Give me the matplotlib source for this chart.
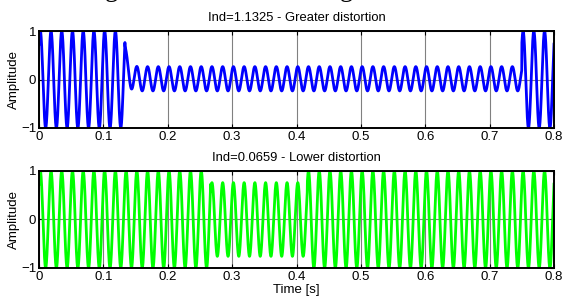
import matplotlib
matplotlib.use("Agg")
import matplotlib.pyplot as plt
import numpy as np

# values
freq_hz = 60.0
phase_delay_s = 0.002
x_ticks = [0.0, 0.1, 0.2, 0.3, 0.4, 0.5, 0.6, 0.7, 0.8]
y_ticks = [-1, 0, 1]

# upper signal: envelope segments (start/end time, amplitude, dc offset)
top_edges = [0.0, 0.1335, 0.75, 0.8]
top_amps = [1.0, 0.25, 1.0]
top_offsets = [0.0, 0.015, 0.0]
top_spike = 0.5        # transient jump after the switch
top_spike_tau = 0.004

# lower signal
bottom_edges = [0.0, 0.2667, 0.4167, 0.8]
bottom_amps = [1.0, 0.76, 1.0]
bottom_offsets = [0.0, 0.0, 0.0]

top_title = "Ind=1.1325 - Greater distortion"
bottom_title = "Ind=0.0659 - Lower distortion"
fig_title = "Original and Distorted Signal Waveforms"


def build_wave(t, edges, amps, offsets):
    y = np.zeros_like(t)
    carrier = np.cos(2 * np.pi * freq_hz * (t - phase_delay_s))
    for i, (amp, off) in enumerate(zip(amps, offsets)):
        last = i == len(amps) - 1
        mask = (t >= edges[i]) & ((t <= edges[i + 1]) if last else (t < edges[i + 1]))
        y[mask] = amp * carrier[mask] + off
    return y


t = np.linspace(0.0, 0.8, 6001)
top_wave = build_wave(t, top_edges, top_amps, top_offsets)
after = (t >= top_edges[1]) & (t < top_edges[2])
top_wave[after] += top_spike * np.exp(-(t[after] - top_edges[1]) / top_spike_tau)
bottom_wave = build_wave(t, bottom_edges, bottom_amps, bottom_offsets)

plt.rcParams["font.family"] = ["Liberation Sans", "DejaVu Sans"]

fig = plt.figure(figsize=(5.65, 3.04), dpi=100)
fig.patch.set_facecolor("white")

ax_left, ax_w, ax_h = 39 / 565, 515 / 565, 97 / 304
ax_top = fig.add_axes([ax_left, 1 - 128 / 304, ax_w, ax_h])
ax_bot = fig.add_axes([ax_left, 1 - 268 / 304, ax_w, ax_h])

panels = [
    (ax_top, top_wave, "#0000ff", top_title),
    (ax_bot, bottom_wave, "#00ff00", bottom_title),
]

for ax, wave, color, title in panels:
    ax.plot(t, wave, color=color, linewidth=2.0, zorder=3)
    ax.set_xlim(0.0, 0.8)
    ax.set_ylim(-1, 1)
    ax.set_xticks(x_ticks)
    ax.set_xticklabels(["0"] + [f"{v:.1f}" for v in x_ticks[1:]])
    ax.set_yticks(y_ticks)
    ax.grid(True, color="0.5", linewidth=0.8, zorder=1)
    ax.tick_params(direction="in", length=3, width=0.8, top=True, right=True,
                   labelsize=9.5, pad=2)
    for sp in ax.spines.values():
        sp.set_linewidth(1.4)
        sp.set_color("black")
        sp.set_zorder(4)
    ax.set_ylabel("Amplitude", fontsize=9.5, labelpad=1)
    ax.set_title(title, fontsize=9.4, pad=7)

ax_bot.set_xlabel("Time [s]", fontsize=9.5, labelpad=1)

# the reference shows only the lower edge of this heading; it is cropped at the top
fig.text(0.517, 1.013, fig_title, ha="center", va="baseline", fontsize=19.4,
         family=["Liberation Serif", "DejaVu Serif"])

fig.savefig("out.png", dpi=100)
plt.close(fig)
